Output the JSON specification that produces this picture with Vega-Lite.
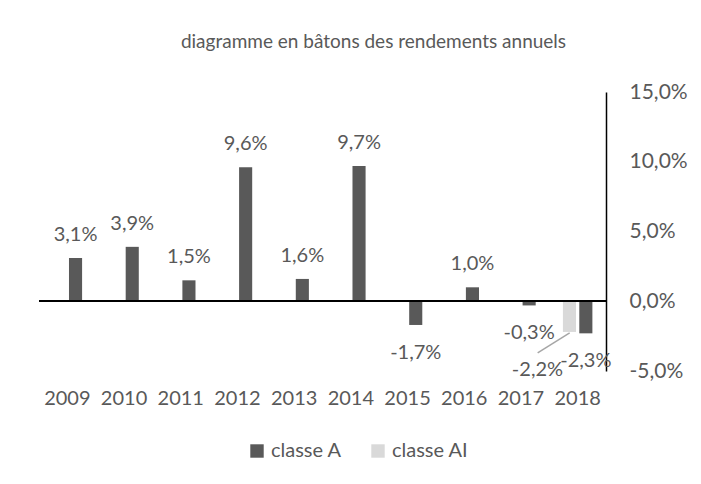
{
  "$schema": "https://vega.github.io/schema/vega-lite/v6.json",
  "width": 567,
  "height": 279,
  "autosize": {"type": "none"},
  "padding": {"left": 39, "top": 92, "right": 95, "bottom": 113},
  "background": "white",
  "config": {
    "locale": {"number": {"decimal": ",", "thousands": " ", "grouping": [3], "currency": ["", " €"], "minus": "-"}},
    "font": "Lato",
    "view": {"stroke": null}
  },
  "title": {
    "text": "diagramme en bâtons des rendements annuels",
    "fontSize": 19,
    "fontWeight": "normal",
    "font": "Lato",
    "color": "#595959",
    "anchor": "middle",
    "dx": 51,
    "offset": 29
  },
  "data": {
    "values": [
      {"year": "2009", "series": "classe A", "value": 0.031},
      {"year": "2010", "series": "classe A", "value": 0.039},
      {"year": "2011", "series": "classe A", "value": 0.015},
      {"year": "2012", "series": "classe A", "value": 0.096},
      {"year": "2013", "series": "classe A", "value": 0.016},
      {"year": "2014", "series": "classe A", "value": 0.097},
      {"year": "2015", "series": "classe A", "value": -0.017},
      {"year": "2016", "series": "classe A", "value": 0.010},
      {"year": "2017", "series": "classe A", "value": -0.003},
      {"year": "2018", "series": "classe A", "value": -0.023},
      {"year": "2018", "series": "classe AI", "value": -0.022}
    ]
  },
  "encoding": {
    "x": {
      "field": "year", "type": "nominal",
      "scale": {"paddingInner": 0.48, "paddingOuter": 0.24},
      "axis": {"orient": "bottom", "title": null, "domain": false, "ticks": false, "labelAngle": 0, "labelFontSize": 20, "labelColor": "#595959", "labelPadding": 17, "labelFont": "Lato"}
    }
  },
  "layer": [
    {
      "mark": {"type": "bar"},
      "encoding": {
        "xOffset": {"field": "series", "type": "nominal", "scale": {"domain": ["classe AI", "classe A"], "paddingInner": 0.2}},
        "y": {
          "field": "value", "type": "quantitative",
          "scale": {"domain": [-0.05, 0.15], "nice": false, "zero": false},
          "axis": {"orient": "right", "title": null, "format": ".1%", "values": [-0.05, 0, 0.05, 0.1, 0.15], "grid": false, "ticks": false, "domainColor": "#000000", "domainWidth": 1.5, "labelFontSize": 21, "labelColor": "#595959", "labelPadding": 23, "labelFont": "Lato"}
        },
        "color": {
          "field": "series", "type": "nominal",
          "scale": {"domain": ["classe A", "classe AI"], "range": ["#595959", "#d9d9d9"]},
          "legend": {"title": null, "orient": "none", "direction": "horizontal", "legendX": 208, "legendY": 349, "symbolType": "square", "symbolSize": 180, "symbolStrokeWidth": 0, "labelFontSize": 20, "labelColor": "#595959", "labelFont": "Lato", "labelOffset": 4, "columnPadding": 26}
        }
      }
    },
    {
      "transform": [{"filter": "datum.value > 0"}],
      "mark": {"type": "text", "dy": -23, "baseline": "middle", "fontSize": 20, "color": "#595959", "font": "Lato"},
      "encoding": {
        "xOffset": {"field": "series", "type": "nominal"},
        "y": {"field": "value", "type": "quantitative"},
        "text": {"field": "value", "type": "quantitative", "format": ".1%"}
      }
    },
    {
      "transform": [{"filter": "datum.value < 0 && datum.series == 'classe A'"}],
      "mark": {"type": "text", "dy": 28, "baseline": "middle", "fontSize": 20, "color": "#595959", "font": "Lato"},
      "encoding": {
        "xOffset": {"field": "series", "type": "nominal"},
        "y": {"field": "value", "type": "quantitative"},
        "text": {"field": "value", "type": "quantitative", "format": ".1%"}
      }
    },
    {
      "transform": [{"filter": "datum.series == 'classe AI'"}],
      "mark": {"type": "text", "dx": -32, "dy": 38, "baseline": "middle", "fontSize": 20, "color": "#595959", "font": "Lato"},
      "encoding": {
        "xOffset": {"field": "series", "type": "nominal"},
        "y": {"field": "value", "type": "quantitative"},
        "text": {"field": "value", "type": "quantitative", "format": ".1%"}
      }
    },
    {
      "transform": [{"filter": "datum.series == 'classe AI'"}],
      "mark": {"type": "rule", "color": "#a6a6a6", "strokeWidth": 1.5, "xOffset": -8, "x2Offset": -40, "yOffset": 1, "y2Offset": 21},
      "encoding": {
        "x": {"field": "year", "type": "nominal", "bandPosition": 0.5},
        "x2": {"field": "year", "bandPosition": 0.5},
        "y": {"field": "value", "type": "quantitative"},
        "y2": {"field": "value"}
      }
    },
    {
      "mark": {"type": "rule", "color": "#000000", "strokeWidth": 1.5},
      "encoding": {"y": {"datum": 0}, "x": {"value": 0}, "x2": {"value": 567}}
    }
  ]
}
